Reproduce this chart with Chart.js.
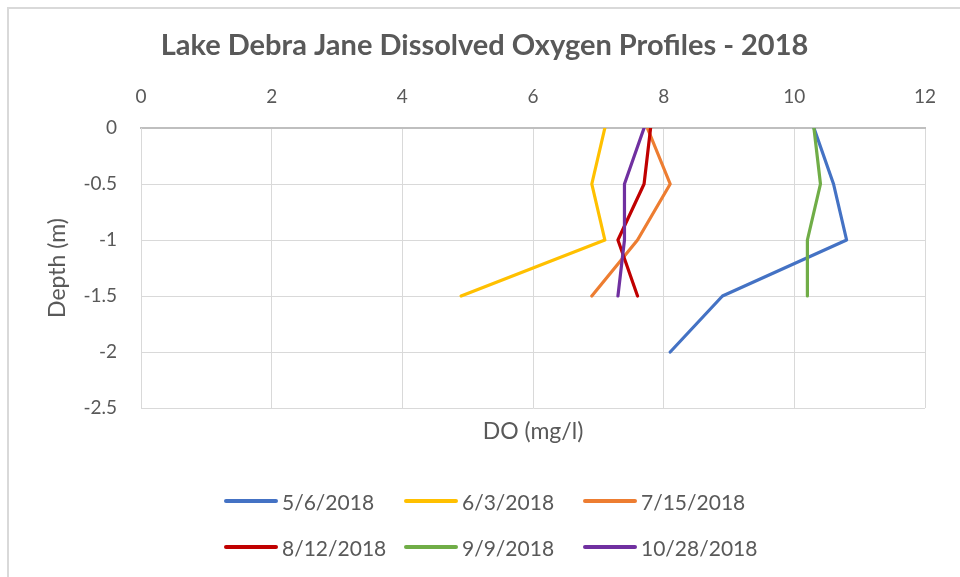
<!DOCTYPE html>
<html>
<head>
<meta charset="utf-8">
<script src="https://cdn.jsdelivr.net/npm/chart.js@4/dist/chart.umd.min.js"></script>
<style>
  html, body { margin: 0; padding: 0; background: #fff; }
  #wrap { position: relative; width: 960px; height: 577px; overflow: hidden; font-family: Lato, sans-serif; }
  #frame { position: absolute; left: 7px; top: 7px; right: -10px; bottom: -10px; border-left: 2px solid #d9d9d9; border-top: 2px solid #d9d9d9; }
  canvas { position: absolute; left: 0; top: 0; }
  .leg { position: absolute; display: flex; align-items: center; height: 24px; color: #595959; font-size: 21px; }
  .leg i { display: inline-block; width: 54px; height: 4px; border-radius: 2px; margin-right: 4px; }
</style>
</head>
<body>
<div id="wrap">
  <div id="frame"></div>
  <canvas id="chart" width="960" height="577"></canvas>
  <div id="legend"></div>
</div>
<script>
// Lake Debra Jane DO profiles
const seriesNames = ['5/6/2018', '6/3/2018', '7/15/2018', '8/12/2018', '9/9/2018', '10/28/2018'];
const seriesColors = ['#4472C4', '#FFC000', '#ED7D31', '#C00000', '#70AD47', '#7030A0'];

const depth5 = [0, -0.5, -1, -1.5, -2];
const depth4 = [0, -0.5, -1, -1.5];

const do0506 = [10.3, 10.6, 10.8, 8.9, 8.1];
const do0603 = [7.1, 6.9, 7.1, 4.9];
const do0715 = [7.75, 8.1, 7.6, 6.9];
const do0812 = [7.8, 7.7, 7.3, 7.6];
const do0909 = [10.3, 10.4, 10.2, 10.2];
const do1028 = [7.7, 7.4, 7.4, 7.3];

const xTicks = [0, 2, 4, 6, 8, 10, 12];
const yTicks = [0, -0.5, -1, -1.5, -2, -2.5];

const seriesDO = [do0506, do0603, do0715, do0812, do0909, do1028];
const seriesDepth = [depth5, depth4, depth4, depth4, depth4, depth4];

// Legend (HTML, laid out as 3 columns x 2 rows like the Excel one)
const legCols = [224, 404, 583];
const legRows = [489, 535];
const legend = document.getElementById('legend');
seriesNames.forEach((name, i) => {
  const d = document.createElement('div');
  d.className = 'leg';
  d.style.left = legCols[i % 3] + 'px';
  d.style.top = legRows[Math.floor(i / 3)] + 'px';
  d.innerHTML = `<i style="background:${seriesColors[i]}"></i><span>${name}</span>`;
  legend.appendChild(d);
});

Chart.defaults.font.family = 'Lato, sans-serif';
Chart.defaults.color = '#595959';

const datasets = seriesNames.map((name, i) => ({
  label: name,
  data: seriesDO[i].map((v, k) => ({ x: v, y: seriesDepth[i][k] })),
  showLine: true,
  borderColor: seriesColors[i],
  backgroundColor: seriesColors[i],
  borderWidth: 3.2,
  pointRadius: 0,
  tension: 0,
  borderCapStyle: 'round',
  borderJoinStyle: 'round',
  order: seriesNames.length - i,
}));

new Chart(document.getElementById('chart'), {
  type: 'scatter',
  data: { datasets },
  options: {
    responsive: false,
    animation: false,
    devicePixelRatio: 1,
    layout: { padding: { left: 44, right: 35, top: 0, bottom: 132 } },
    plugins: {
      legend: { display: false },
      tooltip: { enabled: false },
      title: {
        display: true,
        text: 'Lake Debra Jane Dissolved Oxygen Profiles - 2018',
        color: '#595959',
        font: { size: 29, weight: 'bold' },
        padding: { top: 28, bottom: 0 },
      },
    },
    scales: {
      x: {
        type: 'linear',
        position: 'top',
        min: 0, max: 12,
        afterBuildTicks: s => { s.ticks = xTicks.map(v => ({ value: v })); },
        afterFit: s => { s.height = 65.2; },
        ticks: { font: { size: 19 }, padding: 20, color: '#595959', callback: v => String(v) },
        grid: { color: '#d9d9d9', lineWidth: 1, drawTicks: false },
        border: { color: '#bfbfbf', width: 2 },
      },
      xb: {
        type: 'linear',
        position: 'bottom',
        min: 0, max: 12,
        afterFit: s => { s.height = 37; },
        ticks: { display: false },
        grid: { display: false, drawTicks: false },
        border: { display: false },
        title: { display: true, text: 'DO (mg/l)', font: { size: 23 }, color: '#595959', padding: 0 },
      },
      y: {
        type: 'linear',
        min: -2.5, max: 0,
        afterBuildTicks: s => { s.ticks = yTicks.map(v => ({ value: v })); },
        afterFit: s => { s.width = 97; },
        ticks: { font: { size: 19 }, padding: 24, color: '#595959', callback: v => String(v) },
        grid: { color: '#d9d9d9', lineWidth: 1, drawTicks: false },
        border: { color: '#d9d9d9', width: 1 },
        title: { display: true, text: 'Depth (m)', font: { size: 23 }, color: '#595959', padding: 0 },
      },
    },
  },
});
</script>
</body>
</html>
